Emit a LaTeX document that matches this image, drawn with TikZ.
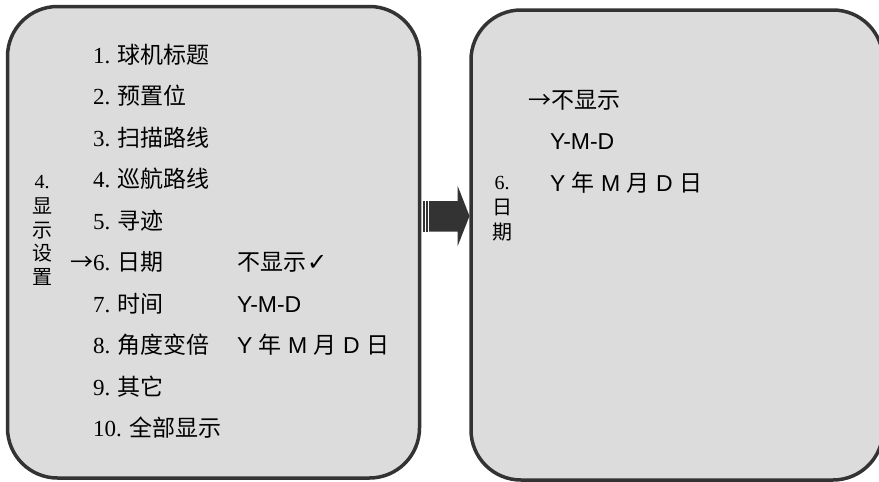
\documentclass[tikz,border=0pt]{standalone}
\usepackage{fontspec}
\setmainfont{Liberation Serif}
\newfontfamily\cjk{Noto Sans CJK SC}
\newfontfamily\arialf{Liberation Sans}
\newfontfamily\dvf{DejaVu Sans}
\definecolor{panelc}{HTML}{DCDCDC}
\definecolor{linec}{HTML}{333333}
\begin{document}
\begin{tikzpicture}[x=1pt,y=-1pt,
  every node/.style={inner sep=0pt, outer sep=0pt},
  panel/.style={draw=linec, line width=3.5pt, fill=panelc, rounded corners=50pt, minimum width=412pt},
  item/.style={anchor=base west, font=\fontsize{23}{28}\selectfont},
  vlab/.style={anchor=base, font=\fontsize{20}{24}\selectfont}]
\path[use as bounding box, clip] (0,0) rectangle (879,482);
% panels
\node[panel, minimum height=471.5pt] (L) at (213.5,242.25) {};
\node[panel, minimum height=470pt] (R) at (677,245) {};
% block arrow
\fill[linec] (422.7,201) rectangle (424.8,231.5);
\fill[linec] (426,201) rectangle (428.1,231.5);
\fill[linec] (429,201) -- (457.7,201) -- (457.7,186) -- (469.5,216) -- (457.7,246) -- (457.7,231.5) -- (429,231.5) -- cycle;
% left vertical label
\node[vlab] (l4) at (42,188.6) {4.};
\node[vlab] (lx) at (42,213.6) {\cjk 显};
\node[vlab] (ls) at (42,237) {\cjk 示};
\node[vlab] (lsh) at (42,260.5) {\cjk 设};
\node[vlab] (lz) at (42,284) {\cjk 置};
% left menu
\node[item] (m1) at (93,63) {1. {\cjk 球机标题}};
\node[item] (m2) at (93,104.5) {2. {\cjk 预置位}};
\node[item] (m3) at (93,146) {3. {\cjk 扫描路线}};
\node[item] (m4) at (93,187.5) {4. {\cjk 巡航路线}};
\node[item] (m5) at (93,229) {5. {\cjk 寻迹}};
\node[item] (m6) at (93,270.5) {\llap{\cjk →}6. {\cjk 日期}};
\node[item] (m7) at (93,312) {7. {\cjk 时间}};
\node[item] (m8) at (93,353.5) {8. {\cjk 角度变倍}};
\node[item] (m9) at (93,395) {9. {\cjk 其它}};
\node[item] (m10) at (93,436.5) {10. {\cjk 全部显示}};
% left options
\node[item] (o1) at (237,270.5) {{\cjk 不显示}\hspace{1pt}{\dvf\fontsize{24}{28}\selectfont ✓}};
\node[item] (o2) at (237,312) {\arialf Y-M-D};
\node[item] (o3) at (237,353.5) {\arialf Y {\cjk 年} M {\cjk 月} D {\cjk 日}};
% right vertical label
\node[vlab] (r6) at (502,189.6) {6.};
\node[vlab] (rr) at (502,214.6) {\cjk 日};
\node[vlab] (rq) at (502,239.6) {\cjk 期};
% right options
\node[item] (p1) at (528,108) {\cjk →不显示};
\node[item] (p2) at (550,149.5) {\arialf Y-M-D};
\node[item] (p3) at (550,191) {\arialf Y {\cjk 年} M {\cjk 月} D {\cjk 日}};
\end{tikzpicture}
\end{document}
